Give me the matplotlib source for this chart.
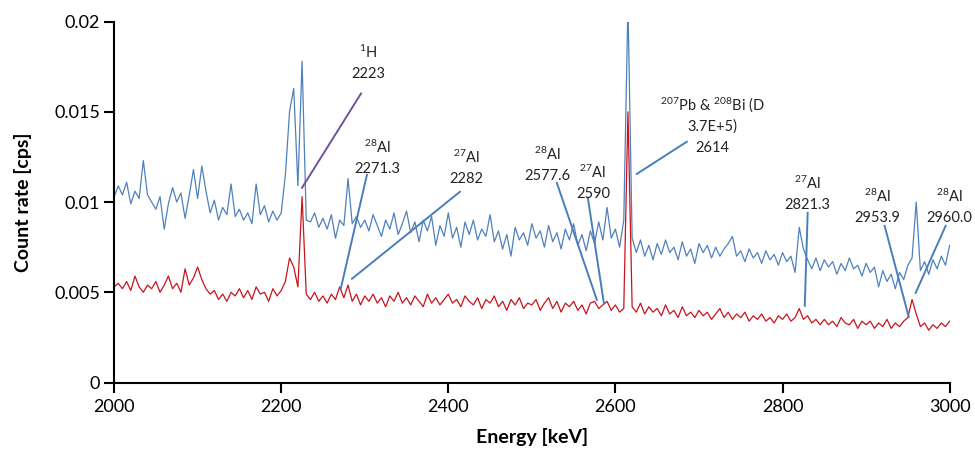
import numpy as np
import matplotlib
matplotlib.use("Agg")
import matplotlib.pyplot as plt

plt.rcParams['font.family'] = ['Lato', 'DejaVu Sans']
plt.rcParams['mathtext.fontset'] = 'custom'
plt.rcParams['mathtext.rm'] = 'Lato'
plt.rcParams['mathtext.it'] = 'Lato:italic'
plt.rcParams['mathtext.bf'] = 'Lato:bold'

# Energy grid of the read-off points [keV], 5 keV apart
energy = np.arange(2000, 3001, 5)

# Count rates, in units of 1e-3 cps (one row = 50 keV)
blue_mcps = [
    10.3, 10.9, 10.4, 11.1, 9.9, 10.6, 10.2, 12.3, 10.4, 10.0,
    9.6, 10.3, 8.5, 9.9, 10.8, 10.0, 10.5, 9.1, 10.4, 11.8,
    10.2, 12.0, 10.6, 9.4, 10.1, 9.0, 9.7, 9.3, 11.0, 9.2,
    9.6, 9.0, 9.4, 8.8, 11.0, 9.3, 9.8, 8.9, 9.5, 9.0,
    9.4, 11.5, 15.0, 16.3, 10.9, 17.8, 9.0, 8.9, 9.4, 8.6,
    9.1, 8.5, 9.3, 8.0, 9.0, 8.7, 11.3, 8.8, 9.2, 8.6,
    9.0, 8.4, 9.3, 8.7, 8.1, 9.0, 8.5, 9.4, 8.2, 8.8,
    9.5, 8.3, 8.9, 7.8, 9.0, 8.4, 9.2, 7.6, 8.7, 8.1,
    9.4, 8.0, 8.6, 7.5, 8.9, 8.2, 9.0, 7.9, 8.5, 8.1,
    9.3, 7.8, 8.4, 7.4, 8.2, 7.0, 8.6, 7.9, 8.3, 7.6,
    8.8, 8.0, 8.4, 7.5, 8.7, 7.8, 8.3, 7.4, 8.5, 7.9,
    8.8, 7.6, 8.2, 7.3, 8.4, 7.7, 8.9, 7.9, 9.7, 8.0,
    8.5, 7.5, 9.0, 21.0, 8.0, 7.2, 7.9, 7.0, 7.6, 6.8,
    7.7, 7.1, 7.9, 7.2, 7.5, 6.8, 7.8, 7.0, 7.4, 6.6,
    7.7, 7.2, 7.6, 6.9, 7.5, 7.0, 7.4, 7.7, 8.1, 7.0,
    7.3, 6.7, 7.4, 6.9, 7.2, 6.6, 7.3, 6.8, 7.1, 6.5,
    7.2, 6.7, 7.0, 6.1, 8.6, 7.4, 6.8, 6.3, 6.9, 6.2,
    6.8, 6.4, 6.7, 6.0, 6.6, 6.2, 6.9, 6.3, 6.5, 5.9,
    6.6, 6.1, 6.4, 5.3, 6.2, 5.6, 6.0, 5.2, 6.1, 5.7,
    6.5, 6.9, 10.0, 6.2, 6.7, 6.0, 6.8, 6.3, 7.0, 6.5,
    7.6,
]

red_mcps = [
    5.3, 5.5, 5.2, 5.6, 5.1, 5.9, 5.3, 5.0, 5.4, 5.2,
    5.6, 5.0, 5.4, 5.9, 5.2, 5.5, 5.0, 6.3, 5.4, 5.8,
    6.4, 5.7, 5.2, 4.9, 5.1, 4.6, 4.9, 4.5, 5.0, 4.8,
    5.2, 4.7, 5.1, 4.6, 5.3, 4.9, 5.0, 4.5, 5.2, 4.8,
    5.1, 5.6, 6.9, 6.4, 5.3, 10.3, 4.9, 4.6, 5.0, 4.5,
    4.8, 4.4, 4.9, 4.6, 5.3, 4.7, 5.4, 4.5, 4.9, 4.3,
    4.8, 4.5, 4.9, 4.4, 4.7, 4.2, 4.8, 4.5, 5.0, 4.4,
    4.7, 4.3, 4.8, 4.5, 4.2, 4.9, 4.4, 4.7, 4.3, 4.6,
    4.9, 4.4, 4.6, 4.2, 4.8, 4.5, 4.3, 4.7, 4.1, 4.6,
    4.4, 4.8, 4.2, 4.5, 4.0, 4.6, 4.3, 4.7, 4.1, 4.4,
    4.3, 4.6, 4.0, 4.4, 4.7, 4.1, 4.5, 3.9, 4.4, 4.2,
    4.5, 4.0, 4.3, 3.8, 4.4, 4.5, 4.1, 4.3, 4.5, 4.0,
    4.3, 3.9, 4.1, 15.0, 4.2, 3.9, 4.4, 3.8, 4.2, 3.9,
    4.1, 3.7, 4.3, 3.8, 4.0, 3.6, 4.2, 3.7, 3.9, 3.6,
    4.0, 3.7, 3.9, 3.5, 3.8, 4.1, 3.6, 3.9, 3.5, 3.8,
    3.6, 3.9, 3.4, 3.7, 3.5, 3.8, 3.4, 3.6, 3.3, 3.7,
    3.5, 3.8, 3.4, 3.6, 4.1, 3.5, 3.7, 3.3, 3.5, 3.2,
    3.5, 3.2, 3.4, 3.1, 3.6, 3.3, 3.2, 3.5, 3.0, 3.4,
    3.2, 3.4, 3.0, 3.3, 3.1, 3.5, 3.0, 3.3, 3.1, 3.4,
    3.6, 4.6, 3.8, 3.1, 3.3, 2.9, 3.2, 3.0, 3.3, 3.1,
    3.4,
]

# Peak labels, one entry per text line
peak_labels = [
    ['$^{1}$H', '2223'],
    ['$^{28}$Al', '2271.3'],
    ['$^{27}$Al', '2282'],
    ['$^{28}$Al', '2577.6'],
    ['$^{27}$Al', '2590'],
    ['$^{207}$Pb & $^{208}$Bi (D', '3.7E+5)', '2614'],
    ['$^{27}$Al', '2821.3'],
    ['$^{28}$Al', '2953.9'],
    ['$^{28}$Al', '2960.0'],
]

# Layout of the labels and leader lines (data coordinates)
label_x = [2304, 2315, 2422, 2519, 2573, 2716, 2830, 2913, 3000]
label_y = [0.01827, 0.01305, 0.01245, 0.01262, 0.01167, 0.01538, 0.01106, 0.01029, 0.01029]
line_start = [(2295.5, 0.01601), (2302.6, 0.01151), (2413.9, 0.01057), (2529.9, 0.01106),
              (2567.0, 0.01023), (2685.4, 0.01334), (2830.1, 0.00940), (2922.2, 0.00868),
              (2995.2, 0.00868)]
line_end = [(2224.9, 0.01079), (2271.5, 0.00524), (2284.7, 0.00575), (2577.8, 0.00458),
            (2586.1, 0.00442), (2625.6, 0.01156), (2826.6, 0.00425), (2951.0, 0.00364),
            (2959.3, 0.00497)]
line_colors = ['#70529c'] + ['#4a7ebb'] * 8
line_step = 0.00120

blue = np.array(blue_mcps) / 1000
red = np.array(red_mcps) / 1000

fig = plt.figure(figsize=(9.75, 4.49), dpi=100)
ax = fig.add_axes([0.117, 0.148, 0.857, 0.804])

ax.plot(energy, blue, color='#4f81bd', lw=0.9)
ax.plot(energy, red, color='#c8141c', lw=0.9)

for i in range(len(peak_labels)):
    (x0, y0), (x1, y1) = line_start[i], line_end[i]
    ax.plot([x0, x1], [y0, y1], color=line_colors[i], lw=1.4, clip_on=False)
    for k, txt in enumerate(peak_labels[i]):
        ax.text(label_x[i], label_y[i] - k * line_step, txt, ha='center', va='center',
                fontsize=10.5, color='#222222')

ax.set_xlim(2000, 3000)
ax.set_ylim(0, 0.02)
ax.set_xticks(np.arange(2000, 3001, 200))
ax.set_yticks([0, 0.005, 0.01, 0.015, 0.02])
ax.set_yticklabels(['0', '0.005', '0.01', '0.015', '0.02'])

for s in ['top', 'right']:
    ax.spines[s].set_visible(False)
for s in ['left', 'bottom']:
    ax.spines[s].set_linewidth(1.5)
ax.tick_params(axis='both', labelsize=13, width=1.5, length=7, colors='black')
ax.tick_params(axis='x', pad=5)
ax.tick_params(axis='y', pad=3)

ax.set_xlabel('Energy [keV]', fontsize=14, fontweight='bold')
ax.set_ylabel('Count rate [cps]', fontsize=14, fontweight='bold')
ax.xaxis.set_label_coords(0.5, -0.15)
ax.xaxis.label.set_va('center')
ax.yaxis.set_label_coords(-0.109, 0.5)
ax.yaxis.label.set_va('center')

fig.savefig('out.png', dpi=100)
